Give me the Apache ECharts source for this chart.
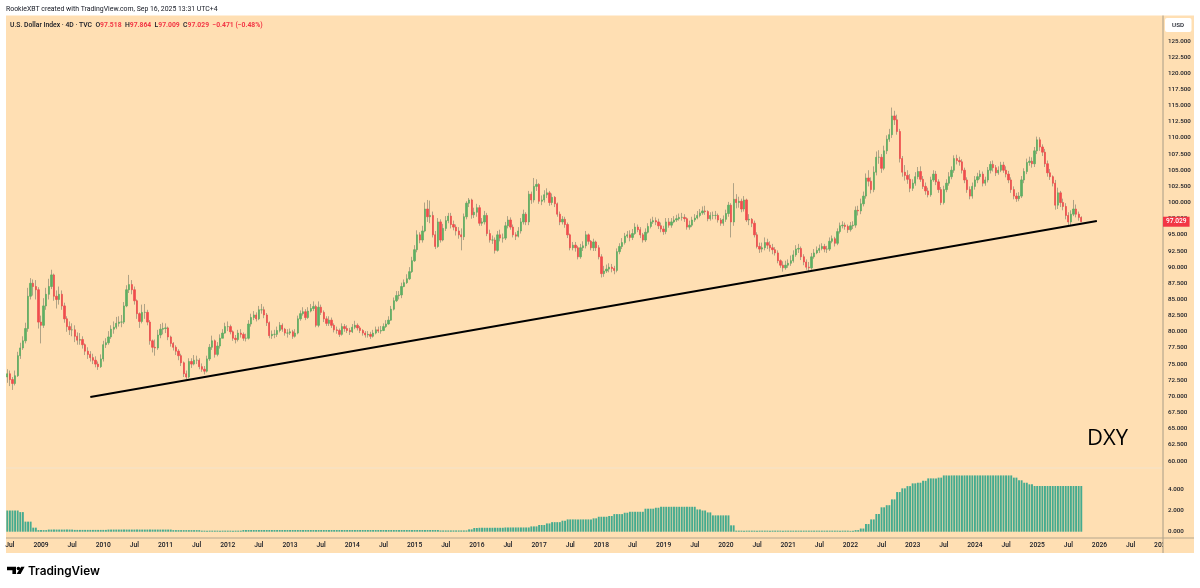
<!DOCTYPE html>
<html>
<head>
<meta charset="utf-8">
<title>DXY</title>
<style>
  html, body { margin: 0; padding: 0; background: #fff; }
  #chart { width: 1200px; height: 588px; }
</style>
<script src="https://cdn.jsdelivr.net/npm/echarts@6/dist/echarts.min.js"></script>
</head>
<body>
<div id="chart"></div>
<script>
// half-month periods, one row per calendar year
const closes = [
  73.5,72.6,72.0,73.2,76.3,77.5,78.6,80.5,85.5,87.5,87.0,86.5,81.5,
  81,84,85.8,87,88.8,85.5,85,85.8,84,82,80.8,80.3,80.3,79.3,78.7,78.8,78,77,76.5,76,75.6,75,74.6,75.8,
  78,78.3,79.2,80.4,80.7,81.3,81.5,81.5,84,86.5,87.3,86.5,84.8,82.8,81.6,83,83,81.5,78.6,77.6,77.5,79.5,80.4,80.5,
  80.6,79.2,78.2,77.6,77,76.3,75.2,73.5,73,75.4,75,75.6,75.6,74.6,74.2,73.9,75.8,77.6,78.6,76.5,77.8,79,79.8,80.8,
  80.8,80,79,78.8,79.8,79.6,79,79,81.2,82.2,82.6,82,83.4,83.4,82.6,81.4,79.4,79.6,79.6,80.2,81,80.4,79.8,79.8,
  80,79.3,79.8,82,82.8,83.1,82.2,83.2,83.6,83.9,81,83.8,83,82,81.3,81.8,81,80.3,80.2,79.6,80.8,80.5,80.2,80,
  80.7,81,80.6,80.2,79.8,79.5,79.6,79.3,79.8,80.3,80.1,80.2,80.8,81.2,81.8,83.5,84.8,85.6,85.7,87,87.6,88.2,89.3,91,
  92.7,95,94.2,95.6,99,97.8,98,95,93.2,97,94.2,96,97.2,97.9,96.6,96.2,95.6,95,94.7,97.8,99.9,100.4,98.1,98.5,
  99.2,96.8,97,98,95.2,94.2,94.2,92.6,95,94.5,94.5,96.4,97.3,96.2,95,94.8,95.6,97,98.2,97,101.3,100.4,102.5,102.8,
  100.2,100.4,101.2,101.5,100,100.8,99.8,98.2,97,97.4,96.6,95,93,93.4,93,91.6,93,93.3,95,94,93,93.9,93,91.6,
  89,89.4,89.7,90,89.8,89.5,92.4,93.2,93.8,94.8,95,94.6,95.2,96.2,95.8,95,94.2,95.4,96.3,97,97.2,97,96.4,95.9,
  95.5,97,96.5,97,97.3,97.5,97.7,97.7,97.5,96.2,96.5,97.3,97.6,98,98.4,98.7,98.6,97.5,98,98,98,97.3,96.8,97.4,
  98.3,99.6,97,100.5,100,100.2,99,100.4,97.3,97.4,96.8,95,93.2,92.8,93,93.8,93.4,93,92.7,92.2,91,90.3,89.9,90.3,
  90.6,91,91.9,92.8,92.9,91.6,90.8,90,89.9,91.6,92.2,92.6,92.9,93.2,92.8,92.8,94,94.4,93.7,95.5,96.4,96.5,96.3,95.8,
  96.4,96.5,98.8,98.7,99.8,101,103.8,103.3,102,104.7,107,107,105.3,108,109.8,110.5,113.4,112.8,111,106.8,104.7,104.2,103.6,102.2,
  103,104,104.8,103.6,102.5,101.8,101.2,103.5,104.4,103.2,102,100,102,103,104,105,106.8,106.5,106.3,105,103.5,102,101,102.5,
  103.5,104,104.4,103,103.5,105,105.9,105.4,104.6,105,105.8,105,104.4,103.5,102,101,100.6,101,103.5,104.8,106.2,106.4,106,108,
  109.7,108.6,107.8,106,104.6,104,103,99.6,101.5,100,99.4,98,97,98.2,99,98.2,97.7,97.03
]
const highs = [
  74.2,74.0,73.0,74.0,76.9,78.3,79.3,81.4,86.8,88.3,88.1,88.0,86.9,
  82.5,85.2,86.8,88.2,89.6,89,86.4,87,86.4,84.5,82.4,81.6,81.3,81,79.9,79.8,79.3,78.2,77.6,77,76.6,76.2,75.4,76.5,
  78.6,79,80.1,81,81.6,82.3,82.4,82.6,84.6,87.2,88.8,88,87,85,83,84.2,84.3,83.4,81.8,78.8,78.8,80.3,81.2,81.4,
  81.3,80.8,79.4,78.4,77.9,77.3,76.6,75.4,74,75.9,75.9,76.4,76.3,75.9,75.1,74.7,76.3,78.1,79.4,78.8,78.4,79.6,80.4,81.4,
  81.6,81.1,80.2,79.5,80.3,80.4,79.9,79.7,81.8,82.8,83.2,83,84,84.3,83.9,82.9,81.6,80.2,80.3,80.8,81.5,81.3,80.6,80.4,
  80.5,80.3,80.4,82.5,83.3,83.8,83.5,83.8,84.3,84.7,84.2,84.7,84.2,83.3,82.4,82.4,82.2,81.3,80.8,80.5,81.3,81.2,81,80.6,
  81.2,81.7,81.3,80.9,80.4,80.1,80.1,80,80.3,80.8,80.8,80.9,81.3,81.8,82.4,84,85.3,86.3,86.3,87.6,88.1,88.9,90,91.6,
  93.4,95.7,95.4,96.4,100,100.4,100.3,98.6,95.6,97.6,97.4,96.7,97.9,98.4,98.4,97.2,96.6,96.2,96,98.3,100.2,100.7,100.6,99.2,
  99.8,99.6,97.6,98.7,98.4,95.8,94.9,94.6,95.6,95.8,95.2,97,97.9,97.7,96.6,95.4,96.2,97.6,98.9,98.5,101.8,101.7,103.8,103.6,
  103,101.1,101.9,102.2,101.8,101.4,101,100,98.6,97.9,97.8,96.9,95.2,93.9,93.9,93.3,93.6,94,95.6,95.2,94.2,94.4,94.1,93.4,
  92,90.2,90.4,90.6,90.5,90.2,92.9,93.7,94.5,95.3,95.6,95.7,95.9,96.8,96.6,96.2,95.3,96,96.8,97.5,97.8,97.7,97.5,96.9,
  96.4,97.6,97.6,97.6,97.9,98.1,98.3,98.4,98.2,97.7,97.2,97.8,98.2,98.7,99,99.4,99.5,98.8,98.5,98.6,98.7,98.3,97.6,98,
  98.9,100.1,99.9,103,101.3,100.9,100.6,101,100.6,98.2,97.6,97.2,95.4,93.8,93.8,94.6,94.4,94,93.6,93.1,92.6,91.2,90.9,91,
  91.2,91.8,92.6,93.4,93.6,93.2,92,91.2,90.8,92.2,92.8,93.2,93.5,93.7,93.6,93.3,94.6,94.9,94.7,96,96.9,97.1,96.9,96.6,
  97,97.1,99.4,99.5,100.6,101.7,104.5,105,103.9,105.6,107.9,108.1,107.5,108.8,110.4,111.4,114.7,114.2,113.6,111.4,107.2,105.8,105,104.4,
  103.6,104.7,105.5,105.6,104.1,103.1,102.3,104,105,104.9,103.6,102.4,102.6,103.6,104.7,105.6,107.3,107.4,107.1,106.7,105.4,103.9,102.5,103.1,
  104.1,104.6,105,104.8,104,105.5,106.4,106.5,105.8,105.6,106.3,106.3,105.6,104.9,103.9,102.5,101.5,101.6,104.1,105.3,106.8,107.1,107,108.6,
  110.2,110.1,109,108.3,106.5,105.2,104.2,103.5,102.3,101.8,100.6,99.9,98.5,98.8,100.4,99.7,98.6,97.86
]
const lows = [
  72.1,71.6,71.0,71.7,73.0,75.8,77.2,78.2,80.0,85.0,85.6,85.0,80.5,
  78.2,80.6,83.4,85,86.6,84.8,83.6,84.2,83.4,81.4,80,79.5,79.3,78.4,78,78,77.4,76.4,75.8,75.4,75,74.5,74.1,74.4,
  75.4,77.5,78,78.9,79.7,80.4,80.8,80.7,81.2,83.8,86,85.8,84.2,82,80.6,81.3,82,81,78,76.8,76.3,77.2,79,79.6,
  79.8,78.7,77.7,77.1,76.4,75.6,74.7,73,72.7,72.8,74.4,74.8,75,74.2,73.8,73.4,73.7,75.5,77.2,76,76.2,77.4,79,79.7,
  80.1,79.6,78.6,78.2,78.5,79.1,78.6,78.5,78.8,80.8,81.8,81.6,81.8,82.8,82.1,80.9,79,78.9,79,79.2,79.9,80,79.4,79.1,
  79.5,78.9,79.1,79.6,81.7,82.5,81.8,82,83,83.2,80.7,80.7,82.6,81.5,80.9,80.9,80.6,79.9,79.7,79.2,79.4,80,79.8,79.5,
  79.8,80.4,80.2,79.8,79.4,79.1,79.1,78.9,79.1,79.6,79.8,79.7,80.1,80.6,81.1,81.7,83.3,84.6,85,85.2,86.9,87.4,88,89.1,
  90.8,92.3,93.7,93.8,95.4,97,96.8,94.6,92.8,93,93.8,94,95.6,96.8,96,95.7,94.9,94.4,92.6,94.2,97.4,99.3,97.5,97.6,
  97.8,96.4,96.4,96.6,94.8,93.8,93.6,92.1,92.4,94,93.8,94.2,96,95.8,94.6,94.2,94.6,95.2,96.6,96.5,96.5,99.8,100,101.8,
  99.8,99.6,100,100.7,99.5,99.6,99.3,97.8,96.5,96.6,96.1,94.5,92.6,92.6,92.4,91.2,91.3,92.5,92.9,93.5,92.6,92.5,92.5,91.2,
  88.4,88.5,89.1,89.2,89.2,88.9,89.2,92,92.8,93.5,94.5,94,94.2,95,95.4,94.5,93.8,93.9,95.2,96,96.7,96.5,95.9,95.4,
  95,95.1,96.1,96.1,96.8,97,97.2,97.2,97,95.8,95.8,96.2,97,97.4,97.7,98.1,98.1,97.1,97.2,97.4,97.4,96.9,96.4,96.4,
  97,97.8,94.6,96.4,99.1,99.2,98.5,98.6,97,96.5,96.2,94.6,92.9,92.2,92.3,92.6,92.8,92.4,92,91.8,90.6,89.9,89.3,89.6,
  89.9,90.2,90.7,91.6,92.2,91.1,90.3,89.6,89.4,89.6,91.3,92,92.2,92.6,92.3,92.2,92.5,93.7,93.2,93.4,95.2,96,95.8,95.3,
  95.5,95.9,96.1,98,98.2,99.4,100.6,102.5,101.4,101.6,104.2,106,104.6,105,107.5,109.4,110,112,110.5,106.2,104,103.4,102.9,101.6,
  101.8,102.6,103.6,103.2,102.1,101.2,100.8,100.9,103.2,102.7,101.5,99.6,99.7,101.6,102.6,103.6,104.6,105.9,105.7,104.5,103,101.5,100.5,100.6,
  102,103,103.6,102.5,102.6,103.1,104.5,104.8,104.1,104.3,104.7,104.6,103.9,103,101.5,100.5,100.1,100.2,100.7,103,104.4,105.7,105.4,105.5,
  107.5,108,107.2,105.5,104,103.5,102.5,98.9,99,99.3,98.8,97.4,96.4,96.4,97.9,97.7,97.2,97.009
]
const firstOpen = 73.0

// the lower pane moves in flat steps: each level and how many periods it holds
const stepLevels = [2.0,1.85,.95,.38,.15,.2,.17,.2,.15,.1,.16,.12,.22,.35,.37,.4,.5,.63,.78,.9,1.04,1.16,1.26,1.41,1.48,1.66,1.79,1.88,2.17,2.26,2.35,2.1,2.0,1.82,1.54,.6,.1,.08,.15,.3,.72,1.16,1.67,2.3,2.5,3.05,3.74,4.09,4.3,4.56,4.62,4.8,5.03,5.1,5.31,5.1,4.85,4.62,4.47,4.31]
const stepLengths = [5,2,3,2,4,10,13,25,11,16,76,11,2,2,10,10,3,3,2,4,2,10,2,4,2,4,2,6,4,2,14,2,2,2,7,2,44,2,2,2,2,2,2,2,2,2,2,2,2,2,2,2,4,2,27,2,2,2,2,19]

const trendValues = [69.9, 97.14]
const trendIndexes = [32, 420]
const lastPrice = 97.029

const GREEN = '#5fae62'
const RED = '#ef4d4d'
const WICK = '#9a9278'
const BAR = '#45ab8f'
const PANEL = '#ffdfb3'
const INK = '#131722'
const FONT = 'Roboto, sans-serif'

// half-month axis from mid Jun 2008 to Jan 2027
const categories = []
for (let y = 2008; y <= 2027; y++) {
  for (let m = 1; m <= 12; m++) {
    const mm = String(m).padStart(2, '0')
    for (const d of ['01', '16']) {
      const day = `${y}-${mm}-${d}`
      if (day >= '2008-06-16' && day <= '2027-01-01') categories.push(day)
    }
  }
}

const opens = closes.map((c, i) => (i === 0 ? firstOpen : closes[i - 1]))
const wickData = closes.map((c, i) => [opens[i], c, Math.min(lows[i], opens[i], c), Math.max(highs[i], opens[i], c)])
const bodyData = closes.map((c, i) => [opens[i], c, Math.min(opens[i], c), Math.max(opens[i], c)])
const stepData = stepLevels.flatMap((v, i) => new Array(stepLengths[i]).fill(v))

const isHalfYear = (value) => value.endsWith('-01-01') || value.endsWith('-07-01')

const chart = echarts.init(document.getElementById('chart'))

chart.setOption({
  animation: false,
  backgroundColor: '#ffffff',
  textStyle: { fontFamily: FONT },
  title: {
    left: 10,
    top: 21.5,
    padding: 0,
    text: '{k|U.S. Dollar Index · 4D · TVC  O}{r|97.518}{k|  H}{r|97.864}{k|  L}{r|97.009}{k|  C}{r|97.029}{r|  −0.471 (−0.48%)}',
    textStyle: {
      rich: {
        k: { fontSize: 6.8, color: INK, fontFamily: FONT, fontWeight: 500 },
        r: { fontSize: 6.8, color: '#f23645', fontFamily: FONT }
      }
    }
  },
  grid: [
    { left: 6, width: 1157, top: 24.85, height: 436.15 },
    { left: 6, width: 1157, top: 468.1, height: 63.6 }
  ],
  xAxis: [
    { type: 'category', gridIndex: 0, data: categories, axisLine: { show: false }, axisTick: { show: false }, axisLabel: { show: false }, splitLine: { show: false } },
    {
      type: 'category',
      gridIndex: 1,
      data: categories,
      axisLine: { show: false },
      axisTick: { show: false },
      splitLine: { show: false },
      axisLabel: {
        color: INK,
        fontSize: 6.7,
        fontWeight: 500,
        margin: 10,
        interval: (i, value) => isHalfYear(value),
        formatter: (value) => (value.endsWith('-07-01') ? 'Jul' : value.slice(0, 4))
      }
    }
  ],
  yAxis: [
    {
      type: 'value',
      gridIndex: 0,
      position: 'right',
      min: 60,
      max: 127.5,
      interval: 2.5,
      z: 60,
      axisLine: { show: false },
      axisTick: { show: false },
      splitLine: { show: false },
      axisLabel: { color: INK, fontSize: 6.2, fontWeight: 500, margin: 5, showMaxLabel: false, formatter: (v) => v.toFixed(3) }
    },
    {
      type: 'value',
      gridIndex: 1,
      position: 'right',
      min: 0,
      max: 6,
      interval: 2,
      z: 60,
      axisLine: { show: false },
      axisTick: { show: false },
      splitLine: { show: false },
      axisLabel: { color: INK, fontSize: 6.2, fontWeight: 500, margin: 5, showMaxLabel: false, formatter: (v) => v.toFixed(3) }
    }
  ],
  series: [
    {
      name: 'wicks',
      type: 'candlestick',
      xAxisIndex: 0,
      yAxisIndex: 0,
      data: wickData,
      barWidth: 1,
      itemStyle: { color: WICK, color0: WICK, borderColor: WICK, borderColor0: WICK, borderWidth: 0.8 }
    },
    {
      name: 'bodies',
      type: 'candlestick',
      xAxisIndex: 0,
      yAxisIndex: 0,
      data: bodyData,
      barWidth: 1.8,
      z: 3,
      itemStyle: { color: GREEN, color0: RED, borderColor: GREEN, borderColor0: RED, borderWidth: 0.7 }
    },
    {
      name: 'trend',
      type: 'line',
      xAxisIndex: 0,
      yAxisIndex: 0,
      z: 80,
      showSymbol: false,
      data: trendIndexes.map((idx, i) => [categories[idx], trendValues[i]]),
      lineStyle: { color: '#000000', width: 2 },
      markLine: {
        silent: true,
        z: 90,
        symbol: 'none',
        lineStyle: { color: 'transparent', width: 0 },
        data: [{ yAxis: lastPrice }],
        label: {
          show: true,
          position: 'end',
          distance: 0,
          formatter: () => lastPrice.toFixed(3),
          color: '#ffffff',
          fontSize: 6.6,
          fontWeight: 500,
          backgroundColor: '#f23645',
          padding: [2, 3, 1, 3]
        }
      }
    },
    {
      name: 'lower',
      type: 'bar',
      xAxisIndex: 1,
      yAxisIndex: 1,
      data: stepData,
      barWidth: 1.9,
      itemStyle: { color: BAR }
    }
  ],
  graphic: [
    { type: 'rect', z: -1, shape: { x: 6, y: 15.5, width: 1157, height: 537.5 }, style: { fill: PANEL } },
    // price strip covers whatever x labels run past the pane
    { type: 'rect', z: 50, shape: { x: 1163, y: 15.5, width: 31, height: 537.5 }, style: { fill: PANEL } },
    { type: 'line', z: 55, shape: { x1: 1163, y1: 15.5, x2: 1163, y2: 553 }, style: { stroke: '#a89c86', lineWidth: 1 } },
    { type: 'line', z: 55, shape: { x1: 6, y1: 538, x2: 1194, y2: 538 }, style: { stroke: '#b5a68d', lineWidth: 1 } },
    { type: 'line', z: 1, shape: { x1: 6, y1: 468, x2: 1194, y2: 468 }, style: { stroke: '#f3e3cb', lineWidth: 1 } },
    { type: 'rect', z: 55, shape: { x: 1165, y: 18, width: 26.5, height: 14, r: 2 }, style: { fill: '#ffffff' } },
    { type: 'text', z: 56, style: { x: 1178, y: 25, text: 'USD', fill: INK, font: `500 6.2px ${FONT}`, textAlign: 'center', textVerticalAlign: 'middle' } },
    { type: 'text', z: 56, style: { x: 6, y: 9, text: 'RookieXBT created with TradingView.com, Sep 16, 2025 13:31 UTC+4', fill: INK, font: `6.9px ${FONT}`, textVerticalAlign: 'middle' } },
    { type: 'text', z: 56, style: { x: 1107.5, y: 439, text: 'DXY', fill: '#000000', font: '22px "Open Sans", sans-serif', textAlign: 'center', textVerticalAlign: 'middle' } },
    // TradingView mark
    { type: 'polygon', z: 56, shape: { points: [[7, 566.7], [16, 566.7], [16, 574], [12.4, 574], [12.4, 570.2], [7, 570.2]] }, style: { fill: '#000000' } },
    { type: 'circle', z: 56, shape: { cx: 18.4, cy: 568.5, r: 1.8 }, style: { fill: '#000000' } },
    { type: 'polygon', z: 56, shape: { points: [[21.2, 566.7], [24.6, 566.7], [20.6, 574], [16.6, 574]] }, style: { fill: '#000000' } },
    { type: 'text', z: 56, style: { x: 28, y: 571.5, text: 'TradingView', fill: '#000000', font: '600 11.8px Inter, sans-serif', textVerticalAlign: 'middle' } }
  ]
})

window.addEventListener('resize', () => chart.resize())
</script>
</body>
</html>
